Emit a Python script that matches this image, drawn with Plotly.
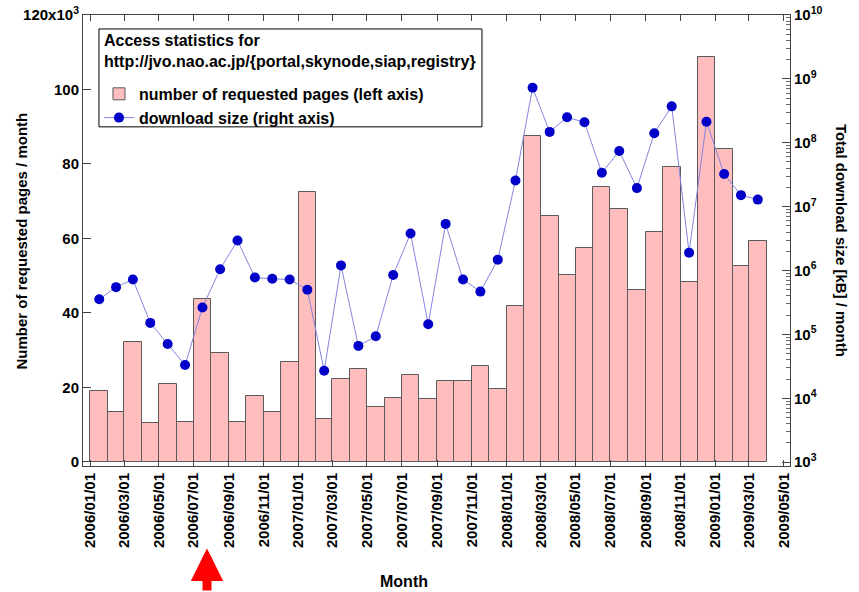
import pandas as pd
import plotly.graph_objects as go

# monthly access statistics, 2006/01 .. 2009/03
months = pd.date_range("2006-01-01", "2009-03-01", freq="MS")

# requested pages per month (x10^3)
pages = [19.0, 13.4, 32.3, 10.5, 21.0, 10.7, 43.7, 29.2, 10.7, 17.7, 13.4, 26.9,
         72.4, 11.4, 22.2, 24.9, 14.8, 17.1, 23.4, 16.8, 21.7, 21.6, 25.8, 19.5,
         41.9, 87.6, 66.1, 50.2, 57.4, 73.9, 67.9, 46.1, 61.8, 79.3, 48.2, 108.7,
         84.1, 52.5, 59.4]

# total download size per month, log10(kB)
download_log = [5.55, 5.74, 5.86, 5.18, 4.85, 4.52, 5.42, 6.02, 6.47, 5.89, 5.87, 5.86,
                5.70, 4.43, 6.08, 4.82, 4.97, 5.93, 6.58, 5.16, 6.73, 5.86, 5.67, 6.17,
                7.41, 8.86, 8.17, 8.40, 8.32, 7.53, 7.87, 7.29, 8.15, 8.57, 6.28, 8.33,
                7.51, 7.18, 7.11]
download = [10 ** v for v in download_log]

left_ticks = [0, 20, 40, 60, 80, 100, 120]
left_text = ["0", "20", "40", "60", "80", "100", "120x10<sup>3</sup>"]
right_ticks = [10 ** e for e in range(3, 11)]
right_text = ["10<sup>%d</sup>" % e for e in range(3, 11)]

# bars cover the whole month, markers sit in the middle of it
month_end = months + pd.offsets.MonthBegin(1)
month_len = (month_end - months)
mid = months + month_len / 2
width_ms = [d.total_seconds() * 1000 for d in month_len]

FONT = "Liberation Sans, Arial, sans-serif"

fig = go.Figure()
fig.add_trace(go.Bar(
    x=mid, y=pages, width=width_ms,
    name="number of requested pages (left axis)",
    marker=dict(color="#ffbdbd", line=dict(color="#5a5a5a", width=1)),
))
fig.add_trace(go.Scatter(
    x=mid, y=download, yaxis="y2", mode="lines+markers",
    name="download size (right axis)",
    line=dict(color="#8484e0", width=1),
    marker=dict(color="#0000c8", size=10),
))

fig.update_layout(
    width=859, height=592,
    margin=dict(l=83, r=69, t=15, b=126),
    paper_bgcolor="white", plot_bgcolor="white",
    font=dict(family=FONT, size=15, color="black", weight="bold"),
    bargap=0,
    showlegend=True,
    legend=dict(
        x=0.0226, y=0.8627, xanchor="left", yanchor="top",
        bgcolor="rgba(0,0,0,0)", borderwidth=0,
        font=dict(size=16, family=FONT, weight="bold"),
        tracegroupgap=0,
    ),
    xaxis=dict(
        type="date", range=["2005-12-19", "2009-05-12"],
        tick0="2006-01-01", dtick="M2", tickformat="%Y/%m/%d", tickangle=-90,
        ticks="inside", ticklen=6, tickcolor="#444",
        showline=True, linecolor="#444", linewidth=1, mirror="ticks",
        showgrid=False, zeroline=False, automargin=False,
        tickfont=dict(size=15),
    ),
    yaxis=dict(
        range=[-1.1, 120], tickvals=left_ticks, ticktext=left_text,
        ticks="inside", ticklen=8, tickcolor="#444",
        showline=True, linecolor="#444", linewidth=1,
        showgrid=False, zeroline=False, automargin=False,
        tickfont=dict(size=15),
    ),
    yaxis2=dict(
        type="log", range=[2.94, 10], overlaying="y", side="right",
        tickvals=right_ticks, ticktext=right_text,
        ticks="inside", ticklen=8, tickcolor="#444",
        minor=dict(ticks="inside", ticklen=4, dtick="D1", tickcolor="#666", showgrid=False),
        showline=True, linecolor="#444", linewidth=1,
        showgrid=False, zeroline=False, automargin=False,
        tickfont=dict(size=15),
    ),
    shapes=[
        # legend frame (title + entries)
        dict(type="rect", xref="paper", yref="paper", x0=0.0226, x1=0.5643,
             y0=0.752, y1=0.969, line=dict(color="black", width=1),
             fillcolor="white", layer="below"),
    ],
    annotations=[
        dict(text="Access statistics for<br>http://jvo.nao.ac.jp/{portal,skynode,siap,registry}",
             xref="paper", yref="paper", x=0.0275, y=0.966, xanchor="left", yanchor="top",
             align="left", showarrow=False, font=dict(size=16)),
        dict(text="Number of requested pages / month", xref="paper", yref="paper",
             x=-0.0863, y=0.5, textangle=-90, showarrow=False,
             xanchor="center", yanchor="middle", font=dict(size=15)),
        dict(text="Total download size [kB] / month", xref="paper", yref="paper",
             x=1.073, y=0.5, textangle=90, showarrow=False,
             xanchor="center", yanchor="middle", font=dict(size=15)),
        dict(text="Month", xref="paper", yref="paper",
             x=0.454, y=-0.257, showarrow=False,
             xanchor="center", yanchor="middle", font=dict(size=16)),
        dict(text="", xref="paper", yref="paper", x=0.1754, y=-0.183,
             showarrow=True, ax=0, ay=50, arrowhead=2, arrowsize=0.72,
             arrowwidth=9, arrowcolor="#ff0000", standoff=0),
    ],
)

# the page body has a default 8px margin; drop it so the figure sits at the corner
fig.write_html("out.html", config={"displayModeBar": False},
               post_script="document.body.style.margin='0';")
